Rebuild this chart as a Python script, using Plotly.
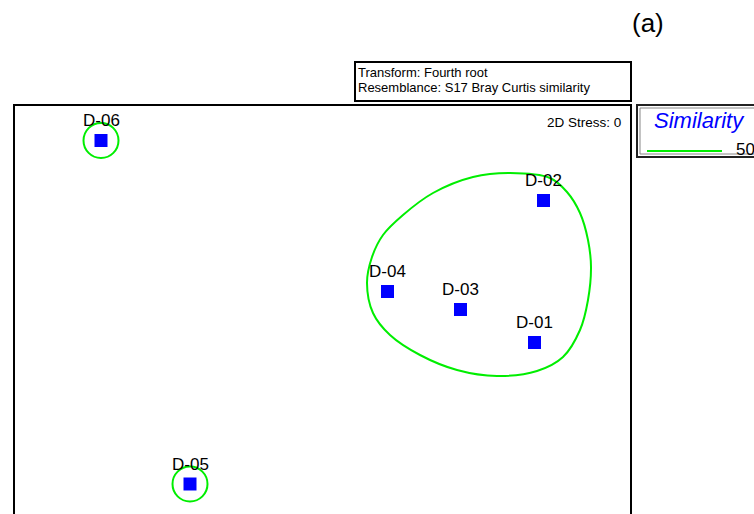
import plotly.graph_objects as go

# nMDS ordination (2D) of samples, fourth-root transform, Bray-Curtis similarity
samples = ["D-01", "D-02", "D-03", "D-04", "D-05", "D-06"]
mds1 = [2.125, 2.215, 1.385, 0.655, -1.32, -2.21]
mds2 = [-0.335, 1.085, -0.005, 0.175, -1.75, 1.685]

# 50% similarity contour around the D-01..D-04 group
contour_x = [1.88, 2.28, 2.45, 2.58, 2.66, 2.69, 2.66, 2.58, 2.41, 2.15, 1.75, 1.35,
             0.98, 0.68, 0.51, 0.45, 0.50, 0.61, 0.81, 1.11, 1.51]
contour_y = [1.36, 1.31, 1.17, 0.96, 0.69, 0.42, 0.09, -0.21, -0.48, -0.62, -0.67, -0.61,
             -0.46, -0.26, -0.04, 0.26, 0.52, 0.74, 0.94, 1.16, 1.32]

# samples that form their own group at 50% similarity
singletons = ["D-05", "D-06"]
group_radius = 0.175

similarity_level = "50"
stress_text = "2D Stress: 0"
info_lines = ["Transform: Fourth root", "Resemblance: S17 Bray Curtis similarity"]
panel_tag = "(a)"

W, H = 754, 514
ML, MR, MT, MB = 13, 123, 104, 0
PW, PH = W - ML - MR, H - MT - MB

FONT = "Liberation Sans, Arial, sans-serif"
GREEN = "#00ee00"
BLUE = "#0000ff"


def px(x):
    return (x - ML) / PW


def py(y):
    return (H - MB - y) / PH


fig = go.Figure()

# closed contour
cx = contour_x + contour_x[:1]
cy = contour_y + contour_y[:1]
fig.add_trace(go.Scatter(x=cx, y=cy, mode="lines",
                         line=dict(color=GREEN, width=2, shape="spline", smoothing=1.0),
                         hoverinfo="skip", showlegend=False))

fig.add_trace(go.Scatter(x=mds1, y=mds2, mode="markers",
                         marker=dict(symbol="square", size=13, color=BLUE, line=dict(width=0)),
                         text=samples, hoverinfo="text", showlegend=False))

shapes = []
for name in singletons:
    i = samples.index(name)
    shapes.append(dict(type="circle", xref="x", yref="y",
                       x0=mds1[i] - group_radius, x1=mds1[i] + group_radius,
                       y0=mds2[i] - group_radius, y1=mds2[i] + group_radius,
                       line=dict(color=GREEN, width=2)))

# plot frame (bottom edge runs off the page)
shapes.append(dict(type="rect", xref="paper", yref="paper",
                   x0=px(14), x1=px(631), y0=-0.3, y1=py(105),
                   line=dict(color="black", width=2)))
# info box above the frame
shapes.append(dict(type="rect", xref="paper", yref="paper",
                   x0=px(355), x1=px(631), y0=py(101), y1=py(62),
                   line=dict(color="black", width=2)))
# legend box: dark outer border with a lighter inner rule
shapes.append(dict(type="rect", xref="paper", yref="paper",
                   x0=px(637), x1=px(800), y0=py(157), y1=py(105),
                   line=dict(color="#222222", width=2)))
shapes.append(dict(type="rect", xref="paper", yref="paper",
                   x0=px(640), x1=px(800), y0=py(154), y1=py(108),
                   line=dict(color="#888888", width=1)))
# legend contour swatch
shapes.append(dict(type="line", xref="paper", yref="paper",
                   x0=px(647), x1=px(722), y0=py(151), y1=py(151),
                   line=dict(color=GREEN, width=2)))

annotations = []
for name, x, y in zip(samples, mds1, mds2):
    annotations.append(dict(x=x, y=y, xref="x", yref="y", text=name, showarrow=False,
                            xanchor="center", yanchor="middle", yshift=20,
                            font=dict(family=FONT, size=17, color="black")))

annotations += [
    dict(x=px(623), y=py(122), xref="paper", yref="paper", text=stress_text,
         showarrow=False, xanchor="right", yanchor="middle",
         font=dict(family=FONT, size=13.5, color="black")),
    dict(x=px(356), y=py(72.5), xref="paper", yref="paper", text=info_lines[0],
         showarrow=False, xanchor="left", yanchor="middle",
         font=dict(family=FONT, size=13, color="black")),
    dict(x=px(356), y=py(87.5), xref="paper", yref="paper", text=info_lines[1],
         showarrow=False, xanchor="left", yanchor="middle",
         font=dict(family=FONT, size=13, color="black")),
    dict(x=px(699), y=py(120), xref="paper", yref="paper", text="<i>Similarity</i>",
         showarrow=False, xanchor="center", yanchor="middle",
         font=dict(family=FONT, size=22, color=BLUE)),
    dict(x=px(734), y=py(149), xref="paper", yref="paper", text=similarity_level,
         showarrow=False, xanchor="left", yanchor="middle",
         font=dict(family=FONT, size=17, color="black")),
    dict(x=px(648), y=py(23), xref="paper", yref="paper", text=panel_tag,
         showarrow=False, xanchor="center", yanchor="middle",
         font=dict(family=FONT, size=26, color="black")),
    dict(x=px(330), y=py(-14), xref="paper", yref="paper", text=panel_tag,
         showarrow=False, xanchor="center", yanchor="middle",
         font=dict(family=FONT, size=26, color="black")),
]

fig.update_layout(
    width=W, height=H,
    margin=dict(l=ML, r=MR, t=MT, b=MB, pad=0),
    paper_bgcolor="white", plot_bgcolor="white",
    xaxis=dict(range=[-3.09, 3.09], visible=False, fixedrange=True),
    yaxis=dict(range=[-2.05, 2.05], visible=False, fixedrange=True),
    shapes=shapes, annotations=annotations,
    showlegend=False,
)

fig.write_html("out.html")
